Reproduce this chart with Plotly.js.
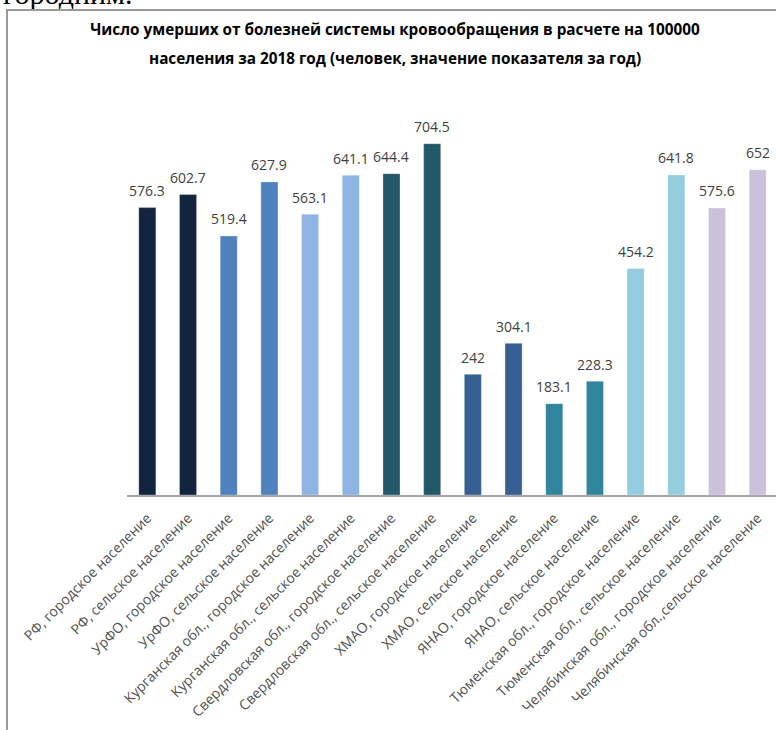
<!DOCTYPE html>
<html>
<head>
<meta charset="utf-8">
<script src="https://cdn.plot.ly/plotly-3.0.1.min.js"></script>
<style>
  html, body { margin: 0; padding: 0; background: #ffffff; overflow: hidden; }
  #wrap { position: relative; width: 776px; height: 730px; overflow: hidden; }
  #frame { position: absolute; left: 6px; top: 9px; width: 900px; height: 900px;
           border-left: 2px solid #9a9a9a; border-top: 2px solid #9a9a9a; }
  #cut { position: absolute; left: 3px; top: -23px; font-family: "Liberation Serif", serif;
         font-size: 30px; line-height: 34px; color: #000; white-space: nowrap; }
  #chart { position: absolute; left: 0; top: 0; width: 776px; height: 730px; }
</style>
</head>
<body>
<div id="wrap">
  <div id="cut">городним.</div>
  <div id="frame"></div>
  <div id="chart"></div>
</div>
<script>
const categories = [
  "РФ, городское население",
  "РФ, сельское население",
  "УрФО, городское население",
  "УрФО, сельское население",
  "Курганская обл., городское население",
  "Курганская обл., сельское население",
  "Свердловская обл., городское население",
  "Свердловская обл., сельское население",
  "ХМАО, городское население",
  "ХМАО, сельское население",
  "ЯНАО, городское население",
  "ЯНАО, сельское население",
  "Тюменская обл., городское население",
  "Тюменская обл., сельское население",
  "Челябинская обл., городское население",
  "Челябинская обл.,сельское население"
];
const values = [576.3, 602.7, 519.4, 627.9, 563.1, 641.1, 644.4, 704.5,
                242, 304.1, 183.1, 228.3, 454.2, 641.8, 575.6, 652];
const valueLabels = ["576.3", "602.7", "519.4", "627.9", "563.1", "641.1", "644.4", "704.5",
                     "242", "304.1", "183.1", "228.3", "454.2", "641.8", "575.6", "652"];
const barColors = ["#13243f", "#13243f", "#4f81bd", "#4f81bd", "#8eb4e3", "#8eb4e3",
                   "#215968", "#215968", "#366092", "#366092", "#31859c", "#31859c",
                   "#93cddd", "#93cddd", "#ccc1da", "#ccc1da"];
const titleLine1 = "Число умерших от болезней системы кровообращения в расчете на 100000";
const titleLine2 = "населения за 2018 год (человек, значение показателя за год)";

const idx = categories.map((c, i) => i);

const trace = {
  type: "bar",
  x: idx,
  y: values,
  marker: { color: barColors, line: { color: "rgba(255,255,255,0.6)", width: 0.5 } },
  hoverinfo: "none"
};

const titleFont = { family: "Open Sans, sans-serif", size: 15.3, color: "#000000", weight: "bold" };

const annotations = idx.map(i => ({
  x: i, y: values[i], xref: "x", yref: "y",
  text: valueLabels[i], showarrow: false,
  yanchor: "middle", xanchor: "center", yshift: 17,
  font: { family: "Open Sans, sans-serif", size: 14, color: "#404040" }
}));
annotations.push({
  text: titleLine2, showarrow: false,
  xref: "paper", yref: "paper",
  x: (395 - 127) / 649, y: (495 - 58) / 379,
  xanchor: "center", yanchor: "middle",
  font: titleFont
});

const layout = {
  width: 776, height: 730,
  margin: { l: 127, r: 0, t: 116, b: 235, pad: 0 },
  paper_bgcolor: "rgba(0,0,0,0)",
  plot_bgcolor: "rgba(0,0,0,0)",
  showlegend: false,
  bargap: 0.58,
  title: {
    text: titleLine1,
    x: 395 / 776, xanchor: "center", xref: "container",
    y: 1 - 24 / 730, yanchor: "top", yref: "container",
    font: titleFont
  },
  xaxis: {
    range: [-0.5, 15.45],
    tickmode: "array", tickvals: idx, ticktext: categories,
    tickangle: -45, ticks: "", ticklabelstandoff: 8,
    showline: true, linecolor: "#a6a6a6", linewidth: 1.5,
    showgrid: false, zeroline: false, fixedrange: true,
    tickfont: { family: "Open Sans, sans-serif", size: 14, color: "#505050" }
  },
  yaxis: {
    range: [0, 760], visible: false, showgrid: false, zeroline: false, fixedrange: true
  },
  annotations: annotations
};

Plotly.newPlot("chart", [trace], layout, { displayModeBar: false, staticPlot: true });
</script>
</body>
</html>
